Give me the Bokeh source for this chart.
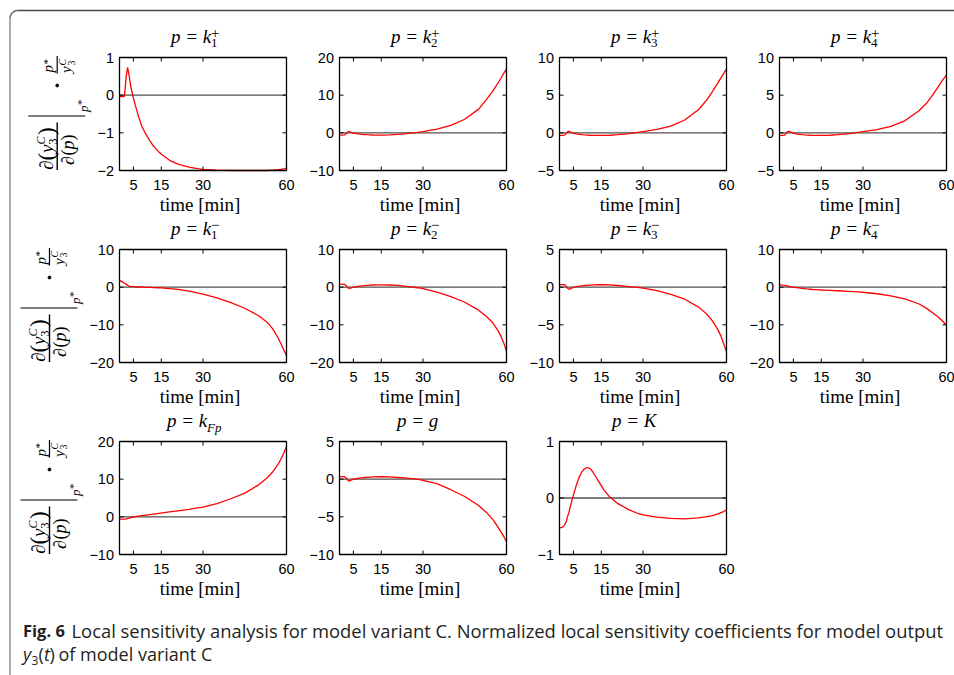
import numpy as np
from bokeh.plotting import figure
from bokeh.models import Range1d
from bokeh.core.properties import value
from bokeh.embed import file_html
from bokeh.resources import INLINE

# ---------------------------------------------------------------- data
# sampling times [min]
time_min = [0, 1, 1.8, 2.4, 2.9, 3.4, 4, 5, 6, 7, 8, 9, 10, 11, 12, 13, 14, 15,
            16, 18, 21, 25, 28, 30, 35, 40, 45, 50, 53, 55, 57, 58, 59, 60]

# normalized local sensitivity coefficients of y3 (model variant C)
sens_k1_plus = [-0.04, -0.04, -0.03, 0.5, 0.74, 0.55, 0.25, -0.08, -0.35, -0.6, -0.82, -0.97,
                -1.1, -1.22, -1.33, -1.42, -1.5, -1.56, -1.62, -1.73, -1.83, -1.91, -1.95, -1.97,
                -1.99, -2.0, -2.0, -2.0, -2.0, -1.99, -1.98, -1.97, -1.96, -1.94]
sens_k2_plus = [-0.6, -0.6, -0.55, -0.2, 0.25, 0.35, 0.2, -0.05, -0.2, -0.3, -0.4, -0.45,
                -0.5, -0.54, -0.58, -0.6, -0.6, -0.6, -0.6, -0.55, -0.42, -0.15, 0.1, 0.3,
                1.0, 2.0, 3.6, 6.3, 9.0, 11.0, 13.3, 14.5, 15.8, 17.0]
sens_k3_plus = [-0.35, -0.35, -0.3, -0.05, 0.15, 0.2, 0.1, -0.05, -0.15, -0.2, -0.25, -0.28,
                -0.3, -0.32, -0.33, -0.34, -0.35, -0.35, -0.35, -0.32, -0.25, -0.1, 0.05, 0.15,
                0.45, 0.9, 1.7, 3.1, 4.4, 5.5, 6.7, 7.3, 7.9, 8.5]
sens_k4_plus = [-0.35, -0.35, -0.3, -0.05, 0.15, 0.2, 0.1, -0.05, -0.15, -0.2, -0.25, -0.28,
                -0.3, -0.32, -0.33, -0.34, -0.35, -0.35, -0.35, -0.32, -0.25, -0.1, 0.05, 0.15,
                0.42, 0.85, 1.6, 2.9, 4.0, 5.0, 6.1, 6.7, 7.2, 7.7]
sens_k1_minus = [1.8, 1.4, 1.05, 0.8, 0.55, 0.3, 0.2, 0.12, 0.08, 0.05, 0.02, 0.0,
                 -0.05, -0.07, -0.1, -0.13, -0.16, -0.2, -0.25, -0.38, -0.6, -1.05, -1.5, -1.85,
                 -2.85, -4.1, -5.6, -7.6, -9.3, -11.0, -13.5, -15.0, -16.6, -18.2]
sens_k2_minus = [0.8, 0.8, 0.75, 0.4, -0.1, -0.35, -0.25, 0.0, 0.15, 0.25, 0.35, 0.43,
                 0.5, 0.54, 0.58, 0.6, 0.61, 0.62, 0.61, 0.58, 0.45, 0.15, -0.15, -0.4,
                 -1.3, -2.5, -4.0, -6.1, -7.9, -9.4, -11.6, -13.0, -14.8, -17.0]
sens_k3_minus = [0.35, 0.35, 0.32, 0.1, -0.15, -0.28, -0.2, -0.02, 0.08, 0.13, 0.18, 0.22,
                 0.25, 0.28, 0.3, 0.31, 0.32, 0.32, 0.32, 0.3, 0.22, 0.08, -0.03, -0.12,
                 -0.45, -0.95, -1.6, -2.65, -3.6, -4.5, -5.7, -6.5, -7.5, -8.6]
sens_k4_minus = [0.7, 0.55, 0.45, 0.38, 0.3, 0.25, 0.15, 0.0, -0.1, -0.2, -0.3, -0.4,
                 -0.48, -0.55, -0.62, -0.67, -0.72, -0.75, -0.78, -0.85, -0.95, -1.1, -1.25, -1.35,
                 -1.75, -2.3, -3.1, -4.4, -5.7, -6.8, -7.9, -8.6, -9.3, -10.1]
sens_kFp = [-0.6, -0.6, -0.6, -0.55, -0.45, -0.35, -0.22, -0.05, 0.1, 0.2, 0.3, 0.4,
            0.5, 0.6, 0.7, 0.8, 0.9, 1.0, 1.1, 1.3, 1.6, 2.0, 2.35, 2.6,
            3.5, 4.8, 6.3, 8.5, 10.3, 11.9, 14.0, 15.3, 16.9, 18.7]
sens_g = [0.35, 0.35, 0.33, 0.15, -0.1, -0.25, -0.15, 0.0, 0.08, 0.13, 0.18, 0.22,
          0.25, 0.28, 0.3, 0.31, 0.32, 0.32, 0.32, 0.3, 0.22, 0.1, 0.0, -0.15,
          -0.6, -1.4, -2.3, -3.5, -4.5, -5.3, -6.4, -7.0, -7.6, -8.3]
sens_K = [-0.53, -0.52, -0.48, -0.42, -0.33, -0.25, -0.13, 0.05, 0.22, 0.36, 0.46, 0.52,
          0.54, 0.52, 0.46, 0.38, 0.3, 0.22, 0.14, 0.02, -0.1, -0.21, -0.27, -0.3,
          -0.34, -0.36, -0.37, -0.35, -0.33, -0.31, -0.28, -0.26, -0.24, -0.21]

x_ticks = [5, 15, 30, 60]
yticks_k1_plus = [-2, -1, 0, 1]
yticks_k2_plus = [-10, 0, 10, 20]
yticks_k34_plus = [-5, 0, 5, 10]
yticks_minus = [-20, -10, 0, 10]
yticks_k3_minus = [-10, -5, 0, 5]
yticks_kFp = [-10, 0, 10, 20]
yticks_g = [-10, -5, 0, 5]
yticks_K = [-1, 0, 1]

# title pieces: main text, subscript, superscript
title_main = ["p = k", "p = k", "p = k", "p = k",
              "p = k", "p = k", "p = k", "p = k",
              "p = k", "p = g", "p = K"]
title_sub = ["1", "2", "3", "4", "1", "2", "3", "4", "Fp", "", ""]
title_sup = ["+", "+", "+", "+", "\u2212", "\u2212", "\u2212", "\u2212", "", "", ""]

caption_head = "Fig. 6"
caption_line1 = ("Local sensitivity analysis for model variant C. Normalized local "
                 "sensitivity coefficients for model output")
caption_line2 = "of model variant C"

series = [sens_k1_plus, sens_k2_plus, sens_k3_plus, sens_k4_plus,
          sens_k1_minus, sens_k2_minus, sens_k3_minus, sens_k4_minus,
          sens_kFp, sens_g, sens_K]
yticks = [yticks_k1_plus, yticks_k2_plus, yticks_k34_plus, yticks_k34_plus,
          yticks_minus, yticks_minus, yticks_k3_minus, yticks_minus,
          yticks_kFp, yticks_g, yticks_K]

# ---------------------------------------------------------------- style / geometry
SERIF = "Liberation Serif"
SANS = "Liberation Sans"
CAP_FONT = "Open Sans"
CAP_COLOR = "#231f20"
PAGE_W, PAGE_H = 954, 675
FRAME_W, FRAME_H = 167, 113
COL_LEFT = [119, 339, 559, 779]
ROW_TOP = [57, 249, 441]
LABEL_CX = [56.7, 49.0, 49.0]
TITLE_DX = [-32, -32, -32, -32, -32, -32, -32, -32, -36, -26, -31]
TITLE_RISE = 15.0
XLABEL_DROP = 40.0
TICK_LEN = 4
BASELINE_FIX = 0.32          # raise alphabetic-baseline texts by this fraction of their size
BORDER_X = 9.5
LEFT_BORDER = "#8f8f8f"
TOP_BORDER = "#4a4a4a"

# one page-sized canvas; its default ranges are page pixels (y pointing down)
p = figure(frame_width=PAGE_W, frame_height=PAGE_H,
           x_range=Range1d(0, PAGE_W), y_range=Range1d(PAGE_H, 0),
           x_axis_type=None, y_axis_type=None, toolbar_location=None, title=None,
           output_backend="svg", min_border=0, min_border_left=0, min_border_right=0,
           min_border_top=0, min_border_bottom=0)
p.outline_line_color = None
p.background_fill_color = "white"
p.border_fill_color = "white"


def txt(x, y, s, size, style="normal", font=SERIF, align="left",
        baseline="alphabetic", angle=0.0, color="black", **rng):
    if baseline == "alphabetic" and not rng:
        if angle == 0.0:
            y = y - BASELINE_FIX * size
        else:
            x = x - BASELINE_FIX * size
    xs = x if isinstance(x, list) else [x]
    ys = y if isinstance(y, list) else [y]
    ss = s if isinstance(s, list) else [s]
    p.text(x=xs, y=ys, text=ss, text_font=value(font),
           text_font_size=value(f"{size}px"), text_font_style=style,
           text_align=align, text_baseline=baseline, angle=angle,
           text_color=color, **rng)


def tick_text(v):
    return "\u2212" + str(abs(v)) if v < 0 else str(v)


def draw_panel(i, left, top):
    """One sensitivity box, drawn through its own pair of x/y ranges."""
    yt = yticks[i]
    y0, y1 = yt[0], yt[-1]
    bottom = top + FRAME_H
    ux = 60 / FRAME_W
    uy = (y1 - y0) / FRAME_H
    xn, yn = f"t{i}", f"s{i}"
    p.extra_x_ranges = {**p.extra_x_ranges,
                        xn: Range1d(-left * ux, 60 + (PAGE_W - left - FRAME_W) * ux)}
    p.extra_y_ranges = {**p.extra_y_ranges,
                        yn: Range1d(y0 - (PAGE_H - bottom) * uy, y1 + top * uy)}
    kw = dict(x_range_name=xn, y_range_name=yn)

    p.segment(x0=[0], y0=[0], x1=[60], y1=[0], line_color="#505050", line_width=1.3, **kw)
    p.line(time_min, series[i], line_color="#ff0000", line_width=1.3, **kw)
    p.quad(left=[0], right=[60], bottom=[y0], top=[y1], fill_color=None,
           line_color="black", line_width=1.3, **kw)

    # inward ticks on all four sides
    n, m = len(x_ticks), len(yt)
    tx, ty = TICK_LEN * ux, TICK_LEN * uy
    p.segment(x0=x_ticks, y0=[y0] * n, x1=x_ticks, y1=[y0 + ty] * n, line_color="black", **kw)
    p.segment(x0=x_ticks, y0=[y1] * n, x1=x_ticks, y1=[y1 - ty] * n, line_color="black", **kw)
    p.segment(x0=[0] * m, y0=yt, x1=[tx] * m, y1=yt, line_color="black", **kw)
    p.segment(x0=[60] * m, y0=yt, x1=[60 - tx] * m, y1=yt, line_color="black", **kw)

    # tick labels
    txt(x_ticks, [y0 - 14.5 * uy] * n, [str(t) for t in x_ticks], 14.5, font=SANS,
        align="center", baseline="middle", **kw)
    txt([-5.5 * ux] * m, yt, [tick_text(v) for v in yt], 14.5, font=SANS,
        align="right", baseline="middle", **kw)

    # axis label and title (page pixels)
    cx = left + FRAME_W / 2
    txt(cx - 3, bottom + XLABEL_DROP, "time [min]", 19, align="center")
    x0 = cx + TITLE_DX[i]
    base = top - TITLE_RISE
    txt(x0, base, title_main[i], 19, "italic")
    if title_sub[i]:
        txt(x0 + 40, base + 5, title_sub[i], 13,
            "italic" if title_sub[i].isalpha() else "normal")
    if title_sup[i]:
        txt(x0 + 40, base - 5, title_sup[i], 15)


def ylabel(cx, cy):
    """Rotated normalized-sensitivity label  d(y3^C)/d(p)|_{p*} . p*/y3^C."""
    R = np.pi / 2
    # big fraction
    p.segment(x0=[cx], y0=[cy + 8.5], x1=[cx], y1=[cy + 56.0], line_color="black", line_width=1.4)
    bx = cx - 5.0
    txt(bx, cy + 56.0, "\u2202", 19, "italic", angle=R)
    txt(bx + 1.5, cy + 46.5, "(", 23, angle=R)
    txt(bx, cy + 39.0, "y", 19, "italic", angle=R)
    txt(bx + 4.5, cy + 30.5, "3", 12, angle=R)
    txt(bx - 7.5, cy + 30.5, "C", 12, "italic", angle=R)
    txt(bx + 1.5, cy + 21.0, ")", 23, angle=R)
    dx = cx + 16.5
    txt(dx, cy + 51.0, "\u2202", 18, "italic", angle=R)
    txt(dx, cy + 41.5, "(", 18, angle=R)
    txt(dx, cy + 35.5, "p", 18, "italic", angle=R)
    txt(dx, cy + 26.5, ")", 18, angle=R)
    # evaluation bar with p*
    p.segment(x0=[cx - 29], y0=[cy + 2], x1=[cx + 28], y1=[cy + 2], line_color="black", line_width=1.2)
    txt(cx + 30, cy - 2, "p", 13, "italic", angle=R)
    txt(cx + 27, cy - 9, "*", 11, angle=R)
    # multiplication dot
    p.scatter(x=[cx], y=[cy - 28.5], size=2.8, color="black", marker="circle")
    # small fraction p*/y3^C
    p.segment(x0=[cx], y0=[cy - 58.0], x1=[cx], y1=[cy - 40.5], line_color="black", line_width=1.2)
    txt(cx - 4, cy - 41.5, "p", 15, "italic", angle=R)
    txt(cx - 7, cy - 49.5, "*", 11, angle=R)
    txt(cx + 14, cy - 41, "y", 15, "italic", angle=R)
    txt(cx + 17, cy - 48.5, "3", 10, angle=R)
    txt(cx + 8, cy - 48.5, "C", 10, "italic", angle=R)


# page frame: rounded top-left corner
k = np.linspace(np.pi, 1.5 * np.pi, 12)
p.line(x=[BORDER_X, BORDER_X], y=[PAGE_H, 18], line_color=LEFT_BORDER, line_width=1.5)
p.line(x=list(BORDER_X + 8 + 8 * np.cos(k)), y=list(18 + 8 * np.sin(k)),
       line_color="#6a6a6a", line_width=1.5)
p.line(x=[BORDER_X + 8, PAGE_W], y=[10, 10], line_color=TOP_BORDER, line_width=1.5)

for i in range(len(series)):
    r, j = divmod(i, 4)
    draw_panel(i, COL_LEFT[j], ROW_TOP[r])
for r in range(3):
    ylabel(LABEL_CX[r], ROW_TOP[r] + FRAME_H / 2)

# caption
fs = 18
txt(22.5, 635.5, caption_head, 16.5, "bold", CAP_FONT, color=CAP_COLOR)
txt(71, 635.5, caption_line1, 18.4, "normal", CAP_FONT, color=CAP_COLOR)
txt(22.5, 659.5, "y", fs, "italic", CAP_FONT, color=CAP_COLOR)
txt(31, 663.5, "3", 12, "normal", CAP_FONT, color=CAP_COLOR)
txt(38, 659.5, "(", fs, "normal", CAP_FONT, color=CAP_COLOR)
txt(43.5, 659.5, "t", fs, "italic", CAP_FONT, color=CAP_COLOR)
txt(49, 659.5, ")", fs, "normal", CAP_FONT, color=CAP_COLOR)
txt(58, 659.5, caption_line2, fs, "normal", CAP_FONT, color=CAP_COLOR)

open("out.html", "w").write(file_html(p, INLINE))
